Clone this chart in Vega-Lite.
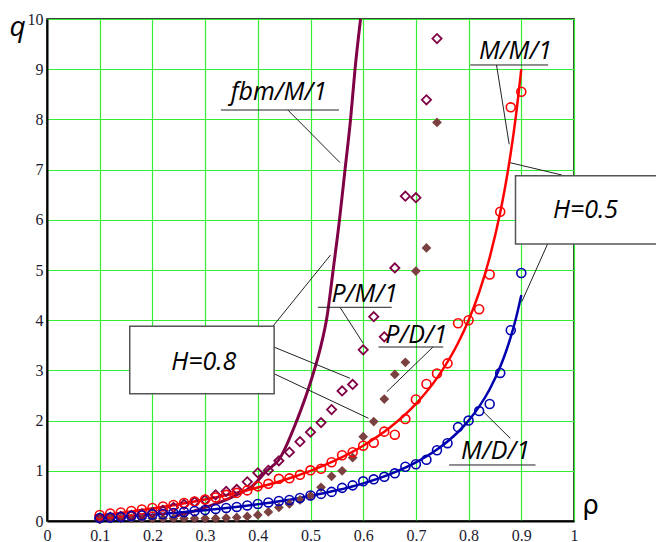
{
  "$schema": "https://vega.github.io/schema/vega-lite/v6.json",
  "width": 527,
  "height": 502,
  "autosize": "none",
  "padding": {"left": 47, "top": 19, "right": 82, "bottom": 21},
  "background": "white",
  "config": {
    "view": {"stroke": "#000000", "strokeWidth": 1.5},
    "axis": {
      "grid": true, "gridColor": "#33ee33", "gridWidth": 1.2, "gridOpacity": 1,
      "domain": true, "domainColor": "#000000", "domainWidth": 2,
      "ticks": false,
      "labelFont": "Liberation Serif", "labelFontSize": 16, "labelColor": "#1a1a2e",
      "labelFlush": false, "labelOverlap": false
    }
  },
  "datasets": {
    "mmline": [
      {"rho": 0.09, "q": 0.099}, {"rho": 0.15, "q": 0.176}, {"rho": 0.2, "q": 0.25}, {"rho": 0.25, "q": 0.333},
      {"rho": 0.3, "q": 0.429}, {"rho": 0.35, "q": 0.538}, {"rho": 0.4, "q": 0.667}, {"rho": 0.45, "q": 0.818},
      {"rho": 0.5, "q": 1.0}, {"rho": 0.55, "q": 1.222}, {"rho": 0.6, "q": 1.5}, {"rho": 0.65, "q": 1.857},
      {"rho": 0.7, "q": 2.333}, {"rho": 0.74, "q": 2.846}, {"rho": 0.78, "q": 3.545}, {"rho": 0.8, "q": 4.0},
      {"rho": 0.82, "q": 4.556}, {"rho": 0.84, "q": 5.25}, {"rho": 0.86, "q": 6.143}, {"rho": 0.87, "q": 6.692},
      {"rho": 0.88, "q": 7.333}, {"rho": 0.89, "q": 8.091}, {"rho": 0.9, "q": 9.0}
    ],
    "mdline": [
      {"rho": 0.09, "q": 0.049}, {"rho": 0.15, "q": 0.088}, {"rho": 0.2, "q": 0.125}, {"rho": 0.25, "q": 0.167},
      {"rho": 0.3, "q": 0.214}, {"rho": 0.35, "q": 0.269}, {"rho": 0.4, "q": 0.333}, {"rho": 0.45, "q": 0.409},
      {"rho": 0.5, "q": 0.5}, {"rho": 0.55, "q": 0.611}, {"rho": 0.6, "q": 0.75}, {"rho": 0.65, "q": 0.929},
      {"rho": 0.7, "q": 1.167}, {"rho": 0.74, "q": 1.423}, {"rho": 0.78, "q": 1.773}, {"rho": 0.8, "q": 2.0},
      {"rho": 0.82, "q": 2.278}, {"rho": 0.84, "q": 2.625}, {"rho": 0.86, "q": 3.071}, {"rho": 0.87, "q": 3.346},
      {"rho": 0.88, "q": 3.667}, {"rho": 0.89, "q": 4.045}, {"rho": 0.9, "q": 4.5}
    ],
    "fbmline": [
      {"rho": 0.24, "q": 0.09}, {"rho": 0.27, "q": 0.17}, {"rho": 0.3, "q": 0.27}, {"rho": 0.33, "q": 0.38},
      {"rho": 0.36, "q": 0.52}, {"rho": 0.39, "q": 0.7}, {"rho": 0.417, "q": 1.0}, {"rho": 0.44, "q": 1.22},
      {"rho": 0.474, "q": 2.0}, {"rho": 0.49, "q": 2.45}, {"rho": 0.507, "q": 3.0}, {"rho": 0.52, "q": 3.5},
      {"rho": 0.531, "q": 4.05}, {"rho": 0.543, "q": 5.0}, {"rho": 0.555, "q": 6.0}, {"rho": 0.5655, "q": 7.0},
      {"rho": 0.576, "q": 8.0}, {"rho": 0.5845, "q": 9.0}, {"rho": 0.595, "q": 10.0}
    ],
    "mmsim": [
      {"rho": 0.10, "q": 0.12}, {"rho": 0.12, "q": 0.15}, {"rho": 0.14, "q": 0.17}, {"rho": 0.16, "q": 0.2},
      {"rho": 0.18, "q": 0.23}, {"rho": 0.20, "q": 0.26}, {"rho": 0.22, "q": 0.29}, {"rho": 0.24, "q": 0.32},
      {"rho": 0.26, "q": 0.36}, {"rho": 0.28, "q": 0.39}, {"rho": 0.30, "q": 0.43}, {"rho": 0.32, "q": 0.47},
      {"rho": 0.34, "q": 0.52}, {"rho": 0.36, "q": 0.56}, {"rho": 0.38, "q": 0.61}, {"rho": 0.40, "q": 0.69},
      {"rho": 0.42, "q": 0.74}, {"rho": 0.44, "q": 0.84}, {"rho": 0.46, "q": 0.85}, {"rho": 0.48, "q": 0.92},
      {"rho": 0.50, "q": 1.01}, {"rho": 0.52, "q": 1.04}, {"rho": 0.54, "q": 1.17}, {"rho": 0.56, "q": 1.31},
      {"rho": 0.58, "q": 1.37}, {"rho": 0.60, "q": 1.5}, {"rho": 0.62, "q": 1.56}, {"rho": 0.64, "q": 1.78},
      {"rho": 0.66, "q": 1.72}, {"rho": 0.68, "q": 2.03}, {"rho": 0.70, "q": 2.42}, {"rho": 0.72, "q": 2.73},
      {"rho": 0.74, "q": 2.94}, {"rho": 0.76, "q": 3.14}, {"rho": 0.78, "q": 3.94}, {"rho": 0.80, "q": 4.0},
      {"rho": 0.82, "q": 4.22}, {"rho": 0.84, "q": 4.91}, {"rho": 0.86, "q": 6.16}, {"rho": 0.88, "q": 8.24},
      {"rho": 0.90, "q": 8.55}
    ],
    "mdsim": [
      {"rho": 0.10, "q": 0.06}, {"rho": 0.12, "q": 0.07}, {"rho": 0.14, "q": 0.08}, {"rho": 0.16, "q": 0.1},
      {"rho": 0.18, "q": 0.11}, {"rho": 0.20, "q": 0.13}, {"rho": 0.22, "q": 0.14}, {"rho": 0.24, "q": 0.16},
      {"rho": 0.26, "q": 0.18}, {"rho": 0.28, "q": 0.2}, {"rho": 0.30, "q": 0.22}, {"rho": 0.32, "q": 0.24},
      {"rho": 0.34, "q": 0.26}, {"rho": 0.36, "q": 0.28}, {"rho": 0.38, "q": 0.31}, {"rho": 0.40, "q": 0.34},
      {"rho": 0.42, "q": 0.37}, {"rho": 0.44, "q": 0.4}, {"rho": 0.46, "q": 0.42}, {"rho": 0.48, "q": 0.46},
      {"rho": 0.50, "q": 0.51}, {"rho": 0.52, "q": 0.54}, {"rho": 0.54, "q": 0.58}, {"rho": 0.56, "q": 0.66},
      {"rho": 0.58, "q": 0.71}, {"rho": 0.60, "q": 0.79}, {"rho": 0.62, "q": 0.83}, {"rho": 0.64, "q": 0.88},
      {"rho": 0.66, "q": 0.95}, {"rho": 0.68, "q": 1.08}, {"rho": 0.70, "q": 1.13}, {"rho": 0.72, "q": 1.22},
      {"rho": 0.74, "q": 1.41}, {"rho": 0.76, "q": 1.55}, {"rho": 0.78, "q": 1.87}, {"rho": 0.80, "q": 2.0},
      {"rho": 0.82, "q": 2.19}, {"rho": 0.84, "q": 2.33}, {"rho": 0.86, "q": 2.95}, {"rho": 0.88, "q": 3.8},
      {"rho": 0.90, "q": 4.94}
    ],
    "pm1": [
      {"rho": 0.10, "q": 0.05}, {"rho": 0.12, "q": 0.07}, {"rho": 0.14, "q": 0.09}, {"rho": 0.16, "q": 0.11},
      {"rho": 0.18, "q": 0.14}, {"rho": 0.20, "q": 0.17}, {"rho": 0.22, "q": 0.21}, {"rho": 0.24, "q": 0.27},
      {"rho": 0.26, "q": 0.33}, {"rho": 0.28, "q": 0.38}, {"rho": 0.30, "q": 0.42}, {"rho": 0.32, "q": 0.52},
      {"rho": 0.34, "q": 0.59}, {"rho": 0.36, "q": 0.63}, {"rho": 0.38, "q": 0.78}, {"rho": 0.40, "q": 0.96},
      {"rho": 0.42, "q": 1.01}, {"rho": 0.44, "q": 1.2}, {"rho": 0.46, "q": 1.37}, {"rho": 0.48, "q": 1.58},
      {"rho": 0.50, "q": 1.77}, {"rho": 0.52, "q": 1.96}, {"rho": 0.54, "q": 2.22}, {"rho": 0.56, "q": 2.59},
      {"rho": 0.58, "q": 2.72}, {"rho": 0.60, "q": 3.41}, {"rho": 0.62, "q": 4.07}, {"rho": 0.64, "q": 3.67},
      {"rho": 0.66, "q": 5.04}, {"rho": 0.68, "q": 6.47}, {"rho": 0.70, "q": 6.44}, {"rho": 0.72, "q": 8.39},
      {"rho": 0.74, "q": 9.61}
    ],
    "pd1": [
      {"rho": 0.10, "q": 0.05}, {"rho": 0.12, "q": 0.05}, {"rho": 0.14, "q": 0.05}, {"rho": 0.16, "q": 0.05},
      {"rho": 0.18, "q": 0.05}, {"rho": 0.20, "q": 0.05}, {"rho": 0.22, "q": 0.05}, {"rho": 0.24, "q": 0.05},
      {"rho": 0.26, "q": 0.05}, {"rho": 0.28, "q": 0.05}, {"rho": 0.30, "q": 0.05}, {"rho": 0.32, "q": 0.05},
      {"rho": 0.34, "q": 0.06}, {"rho": 0.36, "q": 0.07}, {"rho": 0.38, "q": 0.09}, {"rho": 0.40, "q": 0.12},
      {"rho": 0.42, "q": 0.18}, {"rho": 0.44, "q": 0.27}, {"rho": 0.46, "q": 0.34}, {"rho": 0.48, "q": 0.42},
      {"rho": 0.50, "q": 0.5}, {"rho": 0.52, "q": 0.67}, {"rho": 0.54, "q": 0.89}, {"rho": 0.56, "q": 1.0},
      {"rho": 0.58, "q": 1.26}, {"rho": 0.60, "q": 1.68}, {"rho": 0.62, "q": 1.98}, {"rho": 0.64, "q": 2.43},
      {"rho": 0.66, "q": 2.92}, {"rho": 0.68, "q": 3.16}, {"rho": 0.70, "q": 4.98}, {"rho": 0.72, "q": 5.44},
      {"rho": 0.74, "q": 7.94}
    ],
    "segments": [
      {"x": 0.803, "y": 9.084, "x2": 0.951, "y2": 9.084},
      {"x": 0.33, "y": 8.187, "x2": 0.554, "y2": 8.187},
      {"x": 0.514, "y": 4.257, "x2": 0.654, "y2": 4.257},
      {"x": 0.629, "y": 3.466, "x2": 0.752, "y2": 3.466},
      {"x": 0.763, "y": 1.116, "x2": 0.927, "y2": 1.116},
      {"x": 0.853, "y": 9.084, "x2": 0.877, "y2": 7.504},
      {"x": 0.879, "y": 7.137, "x2": 0.977, "y2": 6.892},
      {"x": 0.951, "y": 5.544, "x2": 0.901, "y2": 4.369},
      {"x": 0.457, "y": 8.187, "x2": 0.556, "y2": 7.139},
      {"x": 0.429, "y": 3.884, "x2": 0.538, "y2": 5.299},
      {"x": 0.429, "y": 3.472, "x2": 0.575, "y2": 2.843},
      {"x": 0.429, "y": 2.942, "x2": 0.61, "y2": 2.046},
      {"x": 0.556, "y": 4.257, "x2": 0.6, "y2": 3.54},
      {"x": 0.733, "y": 3.472, "x2": 0.645, "y2": 2.576},
      {"x": 0.879, "y": 1.647, "x2": 0.828, "y2": 2.177}
    ],
    "boxes": [
      {"x": 0.157, "x2": 0.431, "y": 3.878, "y2": 2.534},
      {"x": 0.889, "x2": 1.24, "y": 6.876, "y2": 5.518}
    ],
    "labels": [
      {"x": 0.889, "y": 9.2, "text": "M/M/1"},
      {"x": 0.44, "y": 8.39, "text": "fbm/M/1"},
      {"x": 0.2975, "y": 3.016, "text": "H=0.8"},
      {"x": 1.022, "y": 6.04, "text": "H=0.5"},
      {"x": 0.603, "y": 4.37, "text": "P/M/1"},
      {"x": 0.701, "y": 3.55, "text": "P/D/1"},
      {"x": 0.851, "y": 1.235, "text": "M/D/1"}
    ]
  },
  "layer": [
    {
      "data": {"name": "fbmline"},
      "mark": {"type": "line", "color": "#800045", "strokeWidth": 3, "interpolate": "monotone"},
      "encoding": {
        "x": {"field": "rho", "type": "quantitative", "scale": {"domain": [0, 1], "nice": false},
              "axis": {"values": [0, 0.1, 0.2, 0.3, 0.4, 0.5, 0.6, 0.7, 0.8, 0.9, 1], "format": ".1~f", "labelPadding": 6,
                       "title": "ρ", "titleFont": "DejaVu Sans", "titleFontSize": 26, "titleFontWeight": "normal",
                       "titleX": 543, "titleY": -8, "titleAlign": "center", "titleBaseline": "alphabetic", "titleColor": "#000000"}},
        "y": {"field": "q", "type": "quantitative", "scale": {"domain": [0, 10], "nice": false},
              "axis": {"values": [0, 1, 2, 3, 4, 5, 6, 7, 8, 9, 10], "labelPadding": 4,
                       "title": "q", "titleFont": "Open Sans", "titleFontSize": 28, "titleFontWeight": "normal", "titleFontStyle": "italic",
                       "titleAngle": 0, "titleX": -30, "titleY": 16, "titleAlign": "center", "titleBaseline": "alphabetic", "titleColor": "#000000"}}
      }
    },
    {
      "data": {"name": "mmline"},
      "mark": {"type": "line", "color": "#ff0000", "strokeWidth": 2.5, "interpolate": "monotone"},
      "encoding": {"x": {"field": "rho", "type": "quantitative"}, "y": {"field": "q", "type": "quantitative"}}
    },
    {
      "data": {"name": "mdline"},
      "mark": {"type": "line", "color": "#0000b0", "strokeWidth": 2.5, "interpolate": "monotone"},
      "encoding": {"x": {"field": "rho", "type": "quantitative"}, "y": {"field": "q", "type": "quantitative"}}
    },
    {
      "data": {"name": "pd1"},
      "mark": {"type": "point", "shape": "diamond", "filled": true, "color": "#7b4040", "opacity": 1, "size": 95},
      "encoding": {"x": {"field": "rho", "type": "quantitative"}, "y": {"field": "q", "type": "quantitative"}}
    },
    {
      "data": {"name": "pm1"},
      "mark": {"type": "point", "shape": "diamond", "filled": false, "color": "#800045", "strokeWidth": 1.8, "opacity": 1, "size": 85},
      "encoding": {"x": {"field": "rho", "type": "quantitative"}, "y": {"field": "q", "type": "quantitative"}}
    },
    {
      "data": {"name": "mmsim"},
      "mark": {"type": "point", "shape": "circle", "filled": false, "color": "#ff0000", "strokeWidth": 1.6, "opacity": 1, "size": 80},
      "encoding": {"x": {"field": "rho", "type": "quantitative"}, "y": {"field": "q", "type": "quantitative"}}
    },
    {
      "data": {"name": "mdsim"},
      "mark": {"type": "point", "shape": "circle", "filled": false, "color": "#0000b0", "strokeWidth": 1.6, "opacity": 1, "size": 80},
      "encoding": {"x": {"field": "rho", "type": "quantitative"}, "y": {"field": "q", "type": "quantitative"}}
    },
    {
      "data": {"name": "segments"},
      "mark": {"type": "rule", "color": "#222222", "strokeWidth": 1},
      "encoding": {
        "x": {"field": "x", "type": "quantitative"}, "y": {"field": "y", "type": "quantitative"},
        "x2": {"field": "x2"}, "y2": {"field": "y2"}
      }
    },
    {
      "data": {"name": "boxes"},
      "mark": {"type": "rect", "fill": "#ffffff", "stroke": "#555555", "strokeWidth": 1.5},
      "encoding": {
        "x": {"field": "x", "type": "quantitative"}, "x2": {"field": "x2"},
        "y": {"field": "y", "type": "quantitative"}, "y2": {"field": "y2"}
      }
    },
    {
      "data": {"name": "labels"},
      "mark": {"type": "text", "font": "Open Sans", "fontStyle": "italic", "fontSize": 25, "align": "center", "baseline": "alphabetic", "color": "#000000"},
      "encoding": {
        "x": {"field": "x", "type": "quantitative"}, "y": {"field": "y", "type": "quantitative"},
        "text": {"field": "text", "type": "nominal"}
      }
    }
  ]
}
